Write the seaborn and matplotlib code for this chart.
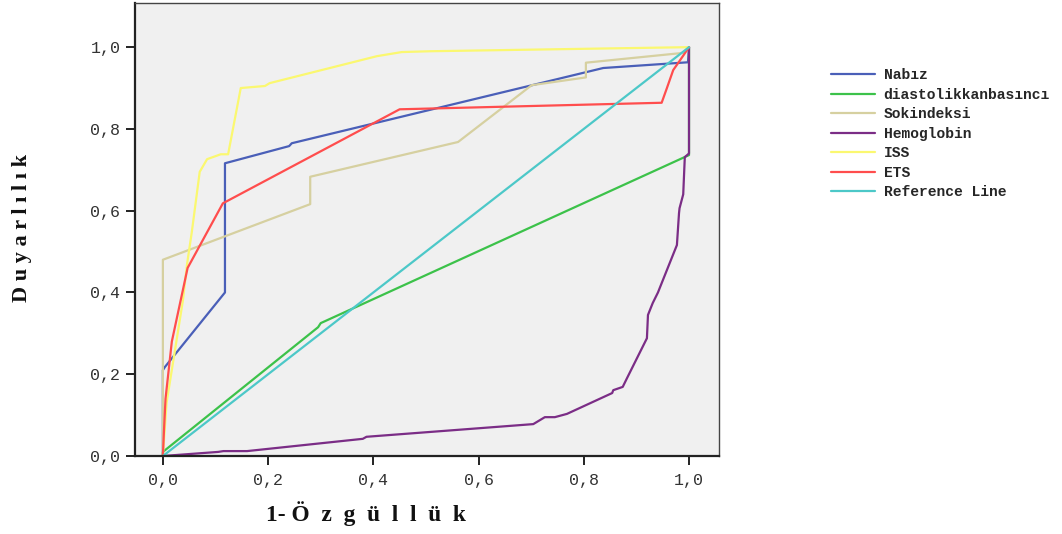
import pandas as pd
import matplotlib
matplotlib.use('Agg')
import matplotlib.pyplot as plt
import seaborn as sns

# ROC curve points (1 - specificity, sensitivity)
nabiz_x = [0, 0, 0.004, 0.118, 0.118, 0.24, 0.245, 0.837, 0.998, 1.0]
nabiz_y = [0, 0.21, 0.218, 0.40, 0.716, 0.758, 0.765, 0.949, 0.963, 1.0]

diastolik_x = [0, 0, 0.295, 0.30, 1.0, 1.0]
diastolik_y = [0, 0.01, 0.315, 0.325, 0.736, 1.0]

sok_x = [0, 0, 0.28, 0.28, 0.561, 0.701, 0.804, 0.804, 0.989, 1.0]
sok_y = [0, 0.48, 0.616, 0.683, 0.768, 0.907, 0.926, 0.962, 0.986, 1.0]

hemo_x = [0, 0.105, 0.115, 0.16, 0.38, 0.387, 0.704, 0.726, 0.745, 0.768, 0.854, 0.856,
          0.874, 0.882, 0.92, 0.922, 0.931, 0.941, 0.945, 0.977, 0.981, 0.982, 0.989,
          0.992, 1.0, 1.0]
hemo_y = [0, 0.01, 0.012, 0.012, 0.042, 0.047, 0.078, 0.095, 0.095, 0.103, 0.154, 0.161,
          0.169, 0.19, 0.288, 0.345, 0.374, 0.40, 0.413, 0.516, 0.594, 0.606, 0.64,
          0.731, 0.74, 1.0]

iss_x = [0, 0.007, 0.038, 0.046, 0.055, 0.07, 0.084, 0.11, 0.124, 0.148, 0.194, 0.203,
         0.407, 0.454, 0.508, 1.0]
iss_y = [0, 0.13, 0.38, 0.47, 0.548, 0.695, 0.726, 0.738, 0.738, 0.90, 0.905, 0.912,
         0.978, 0.988, 0.99, 1.0]

ets_x = [0, 0.002, 0.005, 0.017, 0.047, 0.114, 0.45, 0.948, 0.958, 0.97, 0.983, 1.0]
ets_y = [0, 0.06, 0.14, 0.28, 0.46, 0.618, 0.848, 0.864, 0.90, 0.944, 0.968, 1.0]

ref_x = [0, 1]
ref_y = [0, 1]

series = ['Nabız', 'diastolikkanbasıncı', 'Sokindeksi', 'Hemoglobin', 'ISS', 'ETS', 'Reference Line']
colors = ['#4a5fb8', '#3cc24a', '#d6d0a0', '#7b2d86', '#fbf870', '#ff4d4d', '#4cc8c8']
xs = [nabiz_x, diastolik_x, sok_x, hemo_x, iss_x, ets_x, ref_x]
ys = [nabiz_y, diastolik_y, sok_y, hemo_y, iss_y, ets_y, ref_y]

rows = []
for name, x, y in zip(series, xs, ys):
    for i in range(len(x)):
        rows.append({'fpr': x[i], 'tpr': y[i], 'curve': name, 'order': i})
df = pd.DataFrame(rows)

sns.set_theme(style='white')
plt.rcParams['font.family'] = ['Liberation Mono', 'DejaVu Sans Mono']

fig = plt.figure(figsize=(10.62, 5.34), dpi=100)
ax = fig.add_axes([135 / 1062, 1 - 456 / 534, 584 / 1062, 453 / 534])
ax.set_facecolor('#f0f0f0')

sns.lineplot(data=df, x='fpr', y='tpr', hue='curve', hue_order=series,
             palette=dict(zip(series, colors)), sort=False, estimator=None,
             units='curve', linewidth=1.6, ax=ax, legend=False)

ax.set_xlim(-0.053, 1.057)
ax.set_ylim(0, 1.108)
ticks = [0, 0.2, 0.4, 0.6, 0.8, 1.0]
ax.set_xticks(ticks)
ax.set_yticks(ticks)
ax.set_xticklabels([('%.1f' % t).replace('.', ',') for t in ticks])
ax.set_yticklabels([('%.1f' % t).replace('.', ',') for t in ticks])
ax.tick_params(axis='both', direction='out', length=6.5, width=1.4, color='#222222',
               labelsize=12, labelcolor='#333333', pad=4,
               bottom=True, left=True)
ax.tick_params(axis='x', pad=6)

for side in ['left', 'bottom']:
    ax.spines[side].set_linewidth(1.6)
    ax.spines[side].set_color('#222222')
for side in ['top', 'right']:
    ax.spines[side].set_linewidth(1.0)
    ax.spines[side].set_color('#444444')

ax.set_xlabel('')
ax.set_ylabel('')
fig.text(366 / 1062, 1 - 514 / 534, '1- Ö  z  g  ü  l  l  ü  k', ha='center', va='center',
         fontsize=16.8, fontweight='bold', family='Liberation Serif', color='#111111')
fig.text(22 / 1062, 1 - 228 / 534, 'D u y a r l ı l ı k', ha='center', va='center',
         rotation=90, fontsize=16, fontweight='bold', family='Liberation Serif',
         color='#111111')

handles = [plt.Line2D([], [], color=c, linewidth=1.6) for c in colors]
fig.legend(handles, series, loc='upper left', bbox_to_anchor=(818 / 1062, 1 - 55 / 534),
           frameon=False, handlelength=3.0, handletextpad=0.6, labelspacing=0.38,
           prop={'family': 'Liberation Mono', 'weight': 'bold', 'size': 10.5})

fig.savefig('out.png', dpi=100)
